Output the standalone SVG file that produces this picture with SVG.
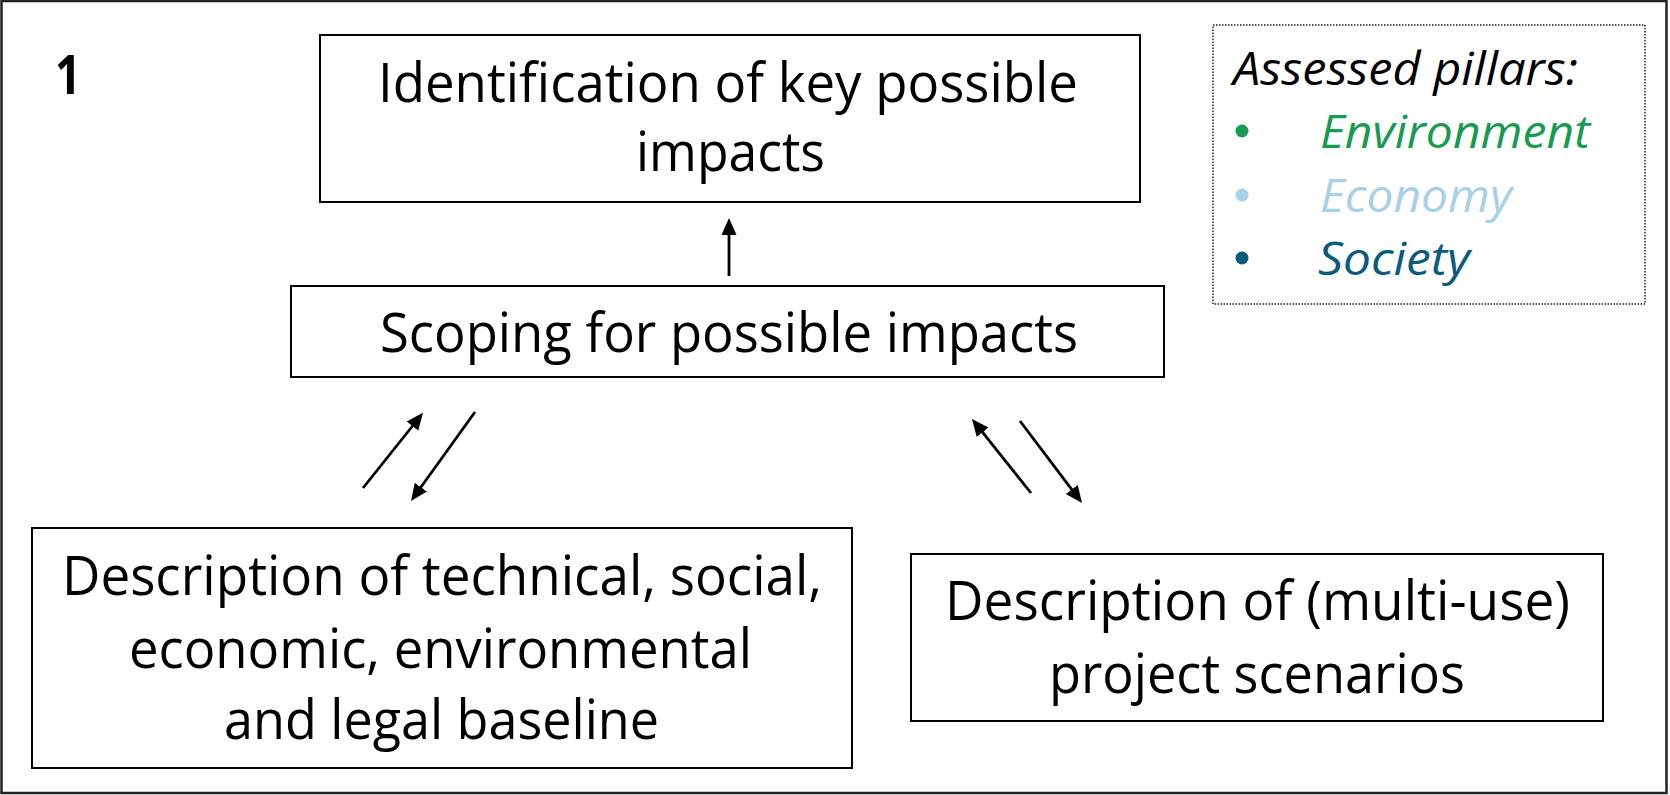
<svg xmlns="http://www.w3.org/2000/svg" width="1670" height="795" viewBox="0 0 1670 795">
<defs>
<style>
.box{fill:#fff;stroke:#000;stroke-width:2}
.t{font-family:"Open Sans","Liberation Sans",sans-serif;font-size:55px;fill:#000;text-anchor:start}
.leg{font-family:"Open Sans","Liberation Sans",sans-serif;font-size:46px;font-style:italic}
.conn{stroke:#000;stroke-width:2.8;fill:none;marker-end:url(#ah)}
</style>
<marker id="ah" markerUnits="userSpaceOnUse" markerWidth="20" markerHeight="18" refX="13" refY="7.5" orient="auto">
<path d="M0,0 L17,7.5 L0,15 Z" fill="#000"/>
</marker>
</defs>
<rect x="0" y="0" width="1670" height="795" fill="#fff"/>
<rect x="1.5" y="1" width="1665" height="792" fill="none" stroke="#222" stroke-width="2.5"/>
<text x="55" y="94" font-family="'Open Sans','Liberation Sans',sans-serif" font-weight="bold" font-size="54" textLength="26" lengthAdjust="spacingAndGlyphs">1</text>

<g id="identification">
<rect class="box" x="320" y="35" width="820" height="167"/>
<text class="t" x="378" y="102" textLength="700" lengthAdjust="spacingAndGlyphs">Identification of key possible</text>
<text class="t" x="636" y="171" textLength="189" lengthAdjust="spacingAndGlyphs">impacts</text>
</g>

<g id="scoping">
<rect class="box" x="291" y="286" width="873" height="91"/>
<text class="t" x="380" y="352" textLength="698" lengthAdjust="spacingAndGlyphs">Scoping for possible impacts</text>
</g>

<g id="baseline">
<rect class="box" x="32" y="528" width="820" height="240"/>
<text class="t" x="62" y="595" textLength="760" lengthAdjust="spacingAndGlyphs">Description of technical, social,</text>
<text class="t" x="129" y="668" textLength="623" lengthAdjust="spacingAndGlyphs">economic, environmental</text>
<text class="t" x="224" y="739" textLength="435" lengthAdjust="spacingAndGlyphs">and legal baseline</text>
</g>

<g id="scenarios">
<rect class="box" x="911" y="554" width="692" height="167"/>
<text class="t" x="945" y="620" textLength="625" lengthAdjust="spacingAndGlyphs">Description of (multi-use)</text>
<text class="t" x="1049" y="693" textLength="416" lengthAdjust="spacingAndGlyphs">project scenarios</text>
</g>

<g id="legend">
<rect x="1213" y="25" width="432" height="279" fill="#fff" stroke="#222" stroke-width="1.5" stroke-dasharray="1.5 1.5"/>
<text class="leg" x="1233" y="85" fill="#000" textLength="345" lengthAdjust="spacingAndGlyphs">Assessed pillars:</text>
<circle cx="1242" cy="131" r="6.5" fill="#169B50"/>
<text class="leg" x="1320" y="148" fill="#169B50" textLength="270" lengthAdjust="spacingAndGlyphs">Environment</text>
<circle cx="1242" cy="195" r="6.5" fill="#A8D0E8"/>
<text class="leg" x="1320" y="212" fill="#A8D0E8" textLength="192" lengthAdjust="spacingAndGlyphs">Economy</text>
<circle cx="1242" cy="258" r="6.5" fill="#0B5B7C"/>
<text class="leg" x="1318" y="275" fill="#0B5B7C" textLength="152" lengthAdjust="spacingAndGlyphs">Society</text>
</g>

<g id="connectors">
<line class="conn" x1="729" y1="276" x2="729" y2="222"/>
<line class="conn" x1="363" y1="488" x2="420.5" y2="416"/>
<line class="conn" x1="475" y1="412" x2="413.3" y2="497.8"/>
<line class="conn" x1="1031" y1="493" x2="974.5" y2="422.1"/>
<line class="conn" x1="1020" y1="421" x2="1079.6" y2="499.8"/>
</g>
</svg>
